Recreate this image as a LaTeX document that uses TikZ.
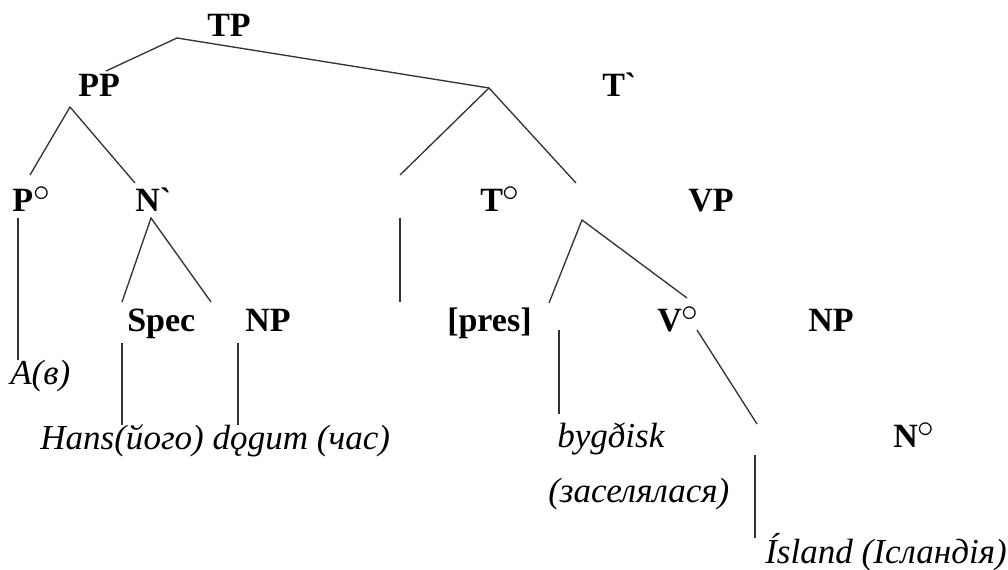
\documentclass[tikz,border=0pt]{standalone}
\usepackage{fontspec}
\setmainfont{Liberation Serif}
\newfontfamily\tnr{Liberation Serif}
\newcommand{\dgr}{\raisebox{0.32em}{$\circ$}}
\begin{document}
\begin{tikzpicture}[x=0.75pt,y=-0.75pt,
  lab/.style={anchor=base west,inner sep=0pt,font=\tnr\fontsize{25.5}{30}\selectfont\bfseries},
  word/.style={anchor=base west,inner sep=0pt,font=\tnr\fontsize{26.3}{30}\selectfont\itshape},
  br/.style={line width=1pt,draw=black!80}]
\useasboundingbox (0,0) rectangle (1008,570);
% labels
\node[lab] (TP) at (207,37) {TP};
\node[lab] (PP) at (78,97) {PP};
\node[lab] (Tbar) at (602,97) {T`};
\node[lab] (P0) at (12,212) {P\dgr};
\node[lab] (Nbar) at (135,212) {N`};
\node[lab] (T0) at (480,212) {T\dgr};
\node[lab] (VP) at (688,212) {VP};
\node[lab] (Spec) at (127,332) {Spec};
\node[lab] (NP1) at (245,332) {NP};
\node[lab] (pres) at (447,332) {[pres]};
\node[lab] (V0) at (657,332) {V\dgr};
\node[lab] (NP2) at (808,332) {NP};
\node[lab] (N0) at (893,448) {N\dgr};
% words
\node[word] (Av) at (10,385) {A(в)};
\node[word] (Hans) at (40,450) {Hans(його) dǫgum (час)};
\node[word] (byg) at (557,448) {bygðisk};
\node[word] (zas) at (548,503) {(заселялася)};
\node[word] (isl) at (765,563) {Ísland (Ісландія)};
% branch points
\coordinate (tpTop) at (177,38);
\coordinate (tpL) at (106,71);
\coordinate (tpR) at (489,88);
\coordinate (tbL) at (400,175);
\coordinate (tbR) at (576,183);
\coordinate (ppTop) at (70,107);
\coordinate (ppL) at (30,175);
\coordinate (ppR) at (135,183);
\coordinate (p0a) at (18,218);
\coordinate (p0b) at (18,360);
\coordinate (nbTop) at (151,218);
\coordinate (nbL) at (122,302);
\coordinate (nbR) at (211,302);
\coordinate (mida) at (400,218);
\coordinate (midb) at (400,302);
\coordinate (spa) at (122,343);
\coordinate (spb) at (122,425);
\coordinate (npa) at (238,343);
\coordinate (npb) at (238,425);
\coordinate (vpTop) at (582,220);
\coordinate (vpL) at (549,303);
\coordinate (vpR) at (687,298);
\coordinate (pra) at (559,330);
\coordinate (prb) at (559,414);
\coordinate (v0a) at (697,330);
\coordinate (v0b) at (757,424);
\coordinate (isa) at (755,455);
\coordinate (isb) at (755,538);
% branches
\draw[br] (tpL) -- (tpTop) -- (tpR);
\draw[br] (tbL) -- (tpR) -- (tbR);
\draw[br] (ppL) -- (ppTop) -- (ppR);
\draw[br] (p0a) -- (p0b);
\draw[br] (nbL) -- (nbTop) -- (nbR);
\draw[br] (mida) -- (midb);
\draw[br] (spa) -- (spb);
\draw[br] (npa) -- (npb);
\draw[br] (vpL) -- (vpTop) -- (vpR);
\draw[br] (pra) -- (prb);
\draw[br] (v0a) -- (v0b);
\draw[br] (isa) -- (isb);
\end{tikzpicture}
\end{document}
